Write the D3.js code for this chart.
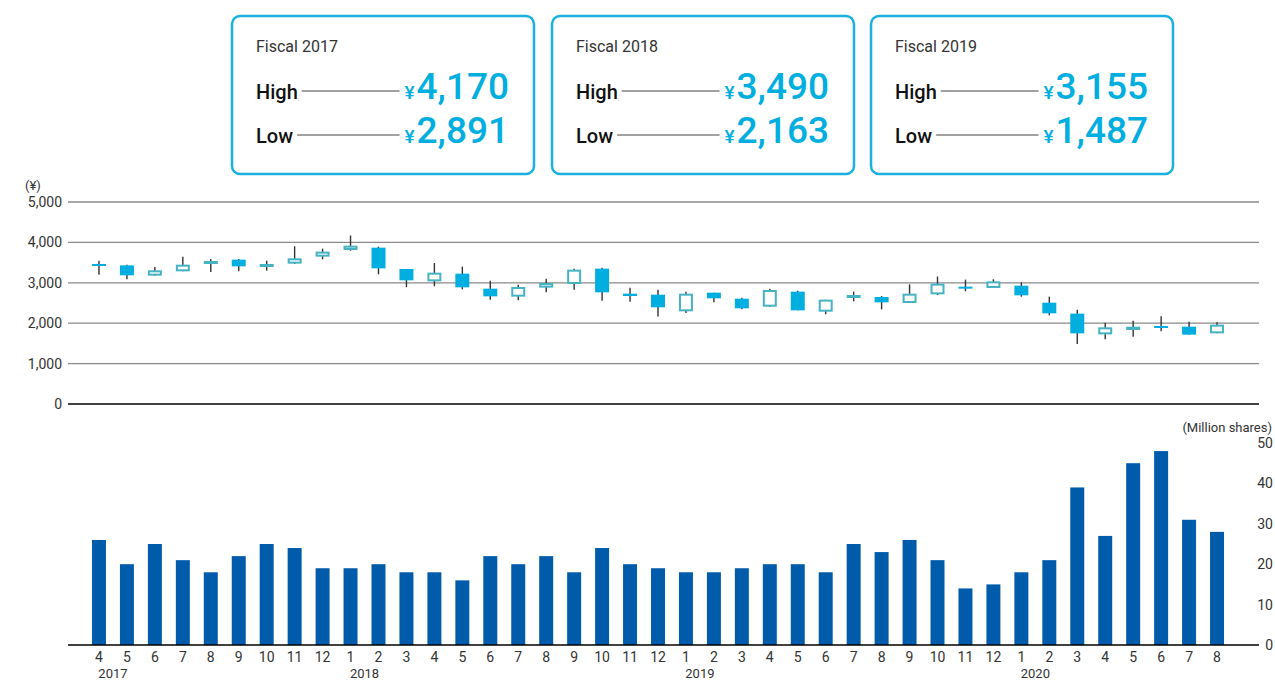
<!DOCTYPE html>
<html>
<head>
<meta charset="utf-8">
<script src="https://cdn.jsdelivr.net/npm/d3@7"></script>
<style>
  body { margin: 0; background: #fff; }
  svg { display: block; font-family: Roboto, "Noto Sans", sans-serif; }
</style>
</head>
<body>
<div id="chart"></div>
<script>
// Monthly data, April 2017 - August 2020
const months = [4,5,6,7,8,9,10,11,12,1,2,3,4,5,6,7,8,9,10,11,12,1,2,3,4,5,6,7,8,9,10,11,12,1,2,3,4,5,6,7,8];
const yearLabels = [
    { year: '2017', at: 0 },
    { year: '2018', at: 9 },
    { year: '2019', at: 21 },
    { year: '2020', at: 33 }
];
const openPrice  = [3465,3432,3177,3284,3465,3573,3391,3474,3647,3812,3870,3342,3036,3226,2855,2657,2880,2970,3350,2731,2706,2294,2756,2607,2409,2781,2285,2640,2649,2500,2714,2904,2871,2929,2508,2236,1724,1832,1931,1914,1749];
const highPrice  = [3548,3449,3391,3647,3589,3589,3548,3903,3845,4170,3894,3342,3490,3399,3053,2954,3102,3350,3375,2880,2830,2781,2756,2632,2855,2805,2583,2781,2673,2962,3155,3078,3086,3012,2657,2335,2013,2063,2170,2038,2021];
const lowPrice   = [3201,3086,3177,3284,3267,3284,3300,3465,3581,3795,3210,2891,2913,2838,2582,2566,2764,2830,2558,2533,2163,2252,2516,2343,2409,2318,2219,2541,2343,2500,2698,2789,2871,2657,2195,1487,1601,1667,1799,1716,1749];
const closePrice = [3416,3185,3309,3449,3540,3408,3465,3606,3771,3919,3358,3061,3251,2888,2665,2896,2995,3325,2764,2673,2393,2731,2616,2368,2822,2318,2583,2698,2516,2731,2979,2871,3036,2690,2244,1749,1898,1914,1920,1716,1964];
const volume     = [26,20,25,21,18,22,25,24,19,19,20,18,18,16,22,20,22,18,24,20,19,18,18,19,20,20,18,25,23,26,21,14,15,18,21,39,27,45,48,31,28];

const priceTicks = [0,1000,2000,3000,4000,5000];
const volumeTicks = [0,10,20,30,40,50];

const fiscalYears = ['Fiscal 2017','Fiscal 2018','Fiscal 2019'];
const fiscalHigh = ['4,170','3,490','3,155'];
const fiscalLow  = ['2,891','2,163','1,487'];

const W = 1275, H = 682;
const cyan = '#00aee0';
const hollowStroke = '#45b3c4';
const barBlue = '#005bab';
const textColor = '#333';

const svg = d3.select('#chart').append('svg')
    .attr('width', W)
    .attr('height', H);

// ---- summary boxes ----
const boxX = [231, 551, 870];
fiscalYears.forEach((title, i) => {
    const g = svg.append('g').attr('transform', `translate(${boxX[i]},15)`);
    g.append('rect')
        .attr('x', 1).attr('y', 1)
        .attr('width', 302).attr('height', 158)
        .attr('rx', 8)
        .attr('fill', '#fff')
        .attr('stroke', '#1ab0e0')
        .attr('stroke-width', 2.5);
    g.append('text')
        .attr('x', 25).attr('y', 37)
        .style('font-size', '16px')
        .style('fill', textColor)
        .text(title);

    [['High', fiscalHigh[i], 84], ['Low', fiscalLow[i], 128]].forEach(([lab, val, by]) => {
        const t = g.append('text')
            .attr('x', 25).attr('y', by)
            .style('font-size', '20px')
            .style('font-weight', '500')
            .style('fill', '#111')
            .text(lab);
        const v = g.append('text')
            .attr('x', 278).attr('y', by)
            .attr('text-anchor', 'end')
            .style('fill', cyan);
        v.append('tspan').style('font-size', '19px').style('font-weight', '500').text('¥');
        v.append('tspan').attr('dx', 2).style('font-size', '37px').style('font-weight', '500').text(val);
        const tb = t.node().getBBox();
        const vb = v.node().getBBox();
        g.append('line')
            .attr('x1', tb.x + tb.width + 4)
            .attr('x2', vb.x - 5)
            .attr('y1', by - 8).attr('y2', by - 8)
            .attr('stroke', '#444')
            .attr('stroke-width', 1.2);
    });
});

// ---- shared x scale ----
const x = d3.scaleBand()
    .domain(d3.range(months.length))
    .range([85, 1231])
    .paddingInner(0.5)
    .paddingOuter(0.25);
const bw = x.bandwidth();
const cx = i => x(i) + bw / 2;

const gridLeft = 68, gridRight = 1259;

// ---- price chart ----
const yP = d3.scaleLinear().domain([0, 5000]).range([404, 202]);

svg.append('g').selectAll('line')
    .data(priceTicks)
    .join('line')
    .attr('x1', gridLeft).attr('x2', gridRight)
    .attr('y1', d => yP(d)).attr('y2', d => yP(d))
    .attr('stroke', d => d === 0 ? '#000' : '#8a8a8a')
    .attr('stroke-width', d => d === 0 ? 1.5 : 1.3);

svg.append('g').selectAll('text')
    .data(priceTicks)
    .join('text')
    .attr('x', 62)
    .attr('y', d => yP(d) + 5)
    .attr('text-anchor', 'end')
    .style('font-size', '14px')
    .style('fill', textColor)
    .text(d => d3.format(',')(d));

svg.append('text')
    .attr('x', 25).attr('y', 190)
    .style('font-size', '13px')
    .style('fill', textColor)
    .text('(¥)');

const candles = svg.append('g');
const idx = d3.range(months.length);

candles.selectAll('line.wick')
    .data(idx)
    .join('line')
    .attr('class', 'wick')
    .attr('x1', cx).attr('x2', cx)
    .attr('y1', i => yP(highPrice[i]))
    .attr('y2', i => yP(lowPrice[i]))
    .attr('stroke', '#333')
    .attr('stroke-width', 1.4);

candles.selectAll('rect.body')
    .data(idx)
    .join('rect')
    .attr('class', 'body')
    .each(function(i) {
        const up = closePrice[i] >= openPrice[i];
        const top = yP(Math.max(openPrice[i], closePrice[i]));
        const bot = yP(Math.min(openPrice[i], closePrice[i]));
        const h = Math.max(bot - top, 2);
        const r = d3.select(this);
        if (up) {
            r.attr('x', x(i) + 1).attr('y', top + 1)
                .attr('width', bw - 2).attr('height', Math.max(h - 2, 1))
                .attr('fill', '#fff')
                .attr('stroke', hollowStroke)
                .attr('stroke-width', 2);
        } else {
            r.attr('x', x(i)).attr('y', top)
                .attr('width', bw).attr('height', h)
                .attr('fill', cyan);
        }
    });

// ---- volume chart ----
const yV = d3.scaleLinear().domain([0, 50]).range([645, 443]);

svg.append('g').selectAll('rect')
    .data(volume)
    .join('rect')
    .attr('x', (d, i) => x(i))
    .attr('y', d => yV(d))
    .attr('width', bw)
    .attr('height', d => yV(0) - yV(d))
    .attr('fill', barBlue);

svg.append('line')
    .attr('x1', gridLeft).attr('x2', gridRight)
    .attr('y1', yV(0)).attr('y2', yV(0))
    .attr('stroke', '#000')
    .attr('stroke-width', 1.5);

svg.append('g').selectAll('text')
    .data(volumeTicks)
    .join('text')
    .attr('x', 1273)
    .attr('y', d => yV(d) + 5)
    .attr('text-anchor', 'end')
    .style('font-size', '14px')
    .style('fill', textColor)
    .text(d => d);

svg.append('text')
    .attr('x', 1272).attr('y', 432)
    .attr('text-anchor', 'end')
    .style('font-size', '13px')
    .style('fill', textColor)
    .text('(Million shares)');

// month + year labels
svg.append('g').selectAll('text')
    .data(months)
    .join('text')
    .attr('x', (d, i) => cx(i))
    .attr('y', 662)
    .attr('text-anchor', 'middle')
    .style('font-size', '14px')
    .style('fill', textColor)
    .text(d => d);

svg.append('g').selectAll('text')
    .data(yearLabels)
    .join('text')
    .attr('x', d => (cx(d.at) + cx(d.at + 1)) / 2)
    .attr('y', 678)
    .attr('text-anchor', 'middle')
    .style('font-size', '13px')
    .style('fill', textColor)
    .text(d => d.year);
</script>
</body>
</html>
